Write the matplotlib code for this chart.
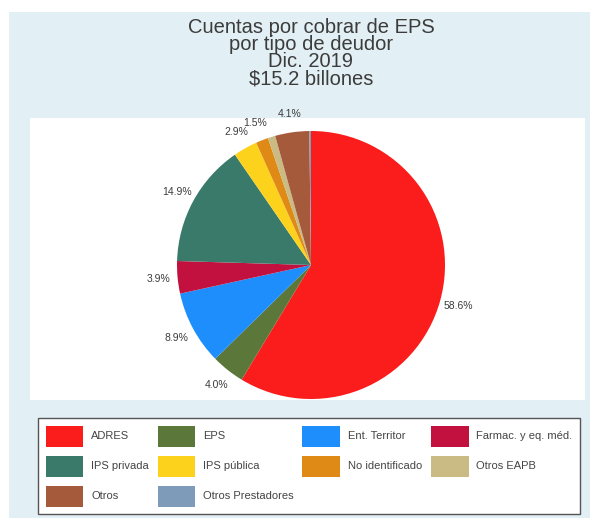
import matplotlib
matplotlib.use("Agg")
import matplotlib.pyplot as plt
from matplotlib.patches import Rectangle

plt.rcParams['font.family'] = ['Liberation Sans', 'DejaVu Sans']

categories = ["ADRES", "EPS", "Ent. Territor", "Farmac. y eq. méd.",
              "IPS privada", "IPS pública", "No identificado", "Otros EAPB",
              "Otros", "Otros Prestadores"]
shares = [58.6, 4.0, 8.9, 3.9, 14.9, 2.9, 1.5, 0.9, 4.1, 0.2]
labels = ["58.6%", "4.0%", "8.9%", "3.9%", "14.9%", "2.9%", "1.5%", "", "4.1%", ""]
colors = ["#fb1c1c", "#5b783a", "#1e8efc", "#c3113f", "#3a7a6b",
          "#fdd21c", "#df8a16", "#cabb85", "#a65a3c", "#7f9bba"]

W, H = 602, 519
fig = plt.figure(figsize=(W / 100, H / 100), dpi=100)
fig.patch.set_facecolor("white")

# light blue graph region and white plot region
bg = fig.add_axes([0, 0, 1, 1], zorder=-10)
bg.axis("off")
bg.set_xlim(0, W)
bg.set_ylim(H, 0)
bg.add_patch(Rectangle((9, 12), 581, 506, facecolor="#e2eff4", edgecolor="none"))
bg.add_patch(Rectangle((30, 118), 555, 282, facecolor="white", edgecolor="none"))

fig.text(311 / W, 1 - 53 / H,
         "Cuentas por cobrar de EPS\npor tipo de deudor\nDic. 2019\n$15.2 billones",
         ha="center", va="center", fontsize=14.5, color="#3c3c3c", linespacing=0.88)

# pie
cx, cy, r = 311, 265, 134
ax = fig.add_axes([(cx - r) / W, 1 - (cy + r) / H, 2 * r / W, 2 * r / H])
ax.set_facecolor("none")
wedges, texts = ax.pie(shares, labels=labels, colors=colors, startangle=90,
                       counterclock=False, labeldistance=1.14,
                       wedgeprops=dict(linewidth=0),
                       textprops=dict(fontsize=7.5, color="#3c3c3c"))
for t in texts:
    t.set_ha("center")
ax.set_xlim(-1, 1)
ax.set_ylim(-1, 1)
ax.set_aspect("equal")
ax.axis("off")

# legend filled row by row
order = [0, 4, 8, 1, 5, 9, 2, 6, 3, 7]
leg = fig.legend([wedges[i] for i in order], [categories[i] for i in order],
                 ncol=4, loc="upper left",
                 bbox_to_anchor=(38 / W, 1 - 514 / H, 542 / W, 96 / H),
                 mode="expand", fontsize=8, handlelength=3.4, handleheight=2.53,
                 handletextpad=0.7, columnspacing=0.8, labelspacing=0.81,
                 borderpad=0.68, borderaxespad=0, frameon=True, fancybox=False,
                 framealpha=1, facecolor="white", edgecolor="#555555",
                 labelcolor="#444444")
leg.get_frame().set_linewidth(1.0)

fig.savefig("out.png", dpi=100, facecolor=fig.get_facecolor())
